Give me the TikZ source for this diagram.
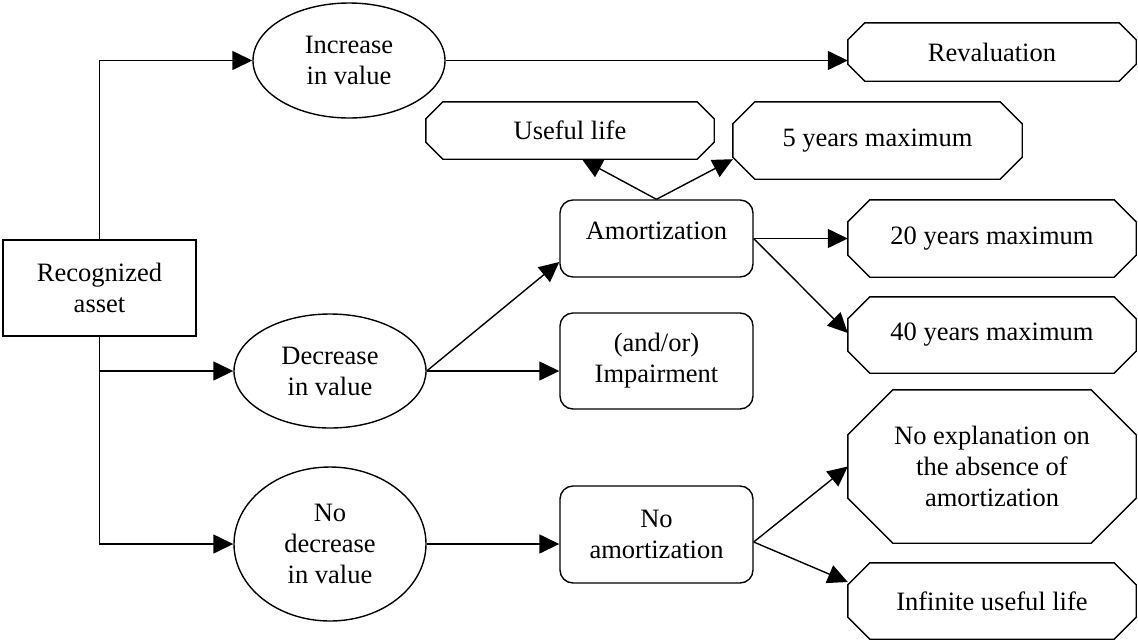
\documentclass[tikz,border=0pt]{standalone}
\usepackage{fontspec}
\setmainfont{Liberation Serif}
\usetikzlibrary{arrows.meta,shapes.geometric}

% octagonal box: a plain rectangle node with its corners cut off
\newcommand\octnode[6]{%
  \node[txt, minimum width=#3, minimum height=#4] (#1) at #2 {#6};
  \draw[outline] ([xshift=#5]#1.north west) -- ([xshift=-#5]#1.north east)
    -- ([yshift=-#5]#1.north east) -- ([yshift=#5]#1.south east)
    -- ([xshift=-#5]#1.south east) -- ([xshift=#5]#1.south west)
    -- ([yshift=#5]#1.south west) -- ([yshift=-#5]#1.north west) -- cycle;}

\begin{document}
\begin{tikzpicture}[x=1pt, y=-1pt,
  outline/.style={line width=1.4pt, draw=black},
  txt/.style={inner sep=0pt, align=center, font=\fontsize{26.5}{31}\selectfont},
  rectbox/.style={txt, outline, rectangle},
  roundbox/.style={txt, outline, rectangle, rounded corners=13pt,
                   minimum width=193pt},
  ellbox/.style={txt, outline, ellipse, minimum width=192pt},
  arr/.style={line width=1.4pt, -{Triangle[length=20pt, width=19pt]}}]
\useasboundingbox (0,0) rectangle (1138,641);

% left column
\node[rectbox, minimum width=193pt, minimum height=96pt] (asset) at (99.5,288) {Recognized\\asset};

% value change ellipses
\node[ellbox, minimum height=115pt] (inc) at (349,60.5) {Increase\\in value};
\node[ellbox, minimum height=114pt] (dec) at (330,371) {Decrease\\in value};
\node[ellbox, minimum height=154pt] (nodec) at (330,544) {No\\decrease\\in value};

% treatments
\node[roundbox, minimum height=77pt] (amort) at (656.5,238.5) {};
\node[txt] (amorttext) at (656.5,231) {Amortization};
\node[roundbox, minimum height=96pt] (impair) at (656.5,361) {(and/or)\\Impairment};
\node[roundbox, minimum height=97pt] (noam) at (656.5,534.5) {No\\amortization};

% outcomes
\octnode{reval}{(992,52)}{288pt}{58pt}{17pt}{Revaluation}
\octnode{useful}{(570,130.5)}{288pt}{57pt}{17pt}{Useful life}
\octnode{five}{(877.5,140.5)}{289pt}{77pt}{22pt}{5 years maximum}
\octnode{twenty}{(992,238.5)}{288pt}{77pt}{22pt}{20 years maximum}
\octnode{forty}{(992,335)}{288pt}{76pt}{22pt}{40 years maximum}
\octnode{noexp}{(992,466.5)}{288pt}{153pt}{45pt}{No explanation on\\the absence of\\amortization}
\octnode{infinite}{(992,601)}{288pt}{76pt}{22pt}{Infinite useful life}

% connectors
\draw[arr] (asset.north) |- (inc.west);
\draw[arr] (asset.south) |- (nodec.west);
\draw[arr] (asset.south |- dec.west) -- (dec.west);
\draw[arr] (inc.east) -- (inc.east -| reval.west);

\draw[arr] (dec.east) -- ([yshift=-23.5pt]amort.west);
\draw[arr] (dec.east) -- (dec.east -| impair.west);
\draw[arr] (nodec.east) -- (nodec.east -| noam.west);

\draw[arr] (amort.north) -- ([xshift=12pt]useful.south);
\draw[arr] (amort.north) -- (five.west |- useful.south);
\draw[arr] (amort.east) -- (twenty.west);
\draw[arr] (amort.east) -- ([yshift=2pt]forty.west);

\draw[arr] ([yshift=-7.5pt]noam.east) -- (noexp.west);
\draw[arr] ([yshift=-7.5pt]noam.east) -- ([yshift=19pt]infinite.west);
\end{tikzpicture}
\end{document}
